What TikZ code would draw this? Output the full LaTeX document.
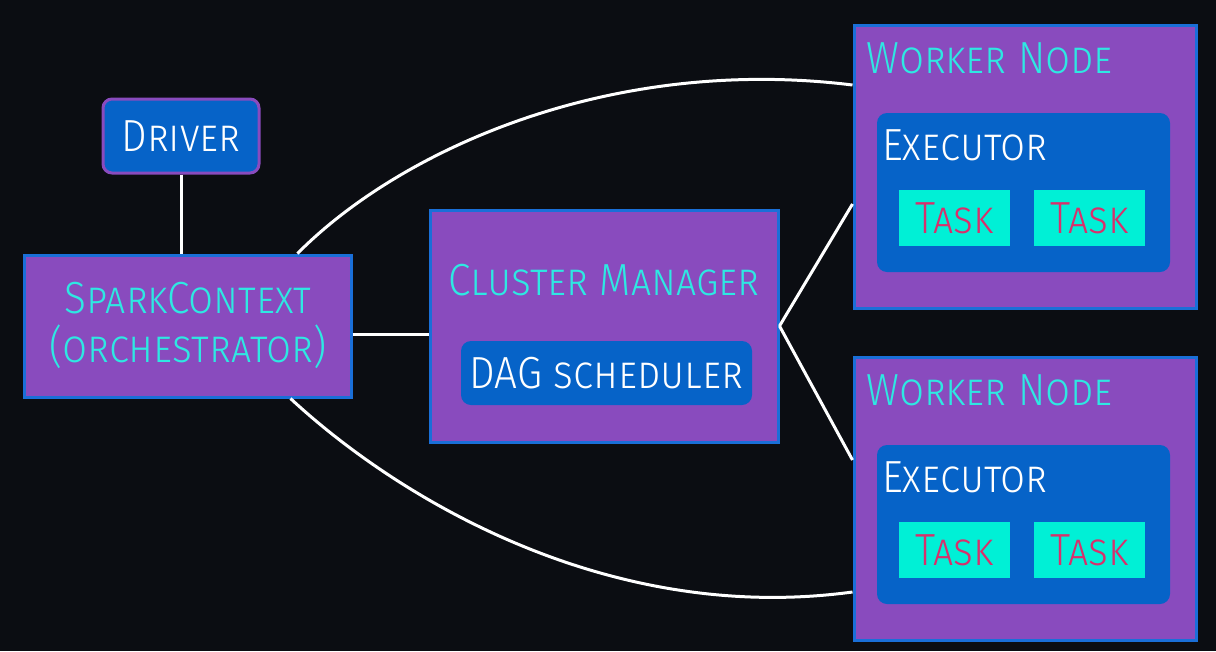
\documentclass[tikz,border=0pt]{standalone}
\usepackage{fontspec}
\setmainfont{Fira Sans Light}[FakeStretch=0.9]
\definecolor{bg}{HTML}{0B0D12}
\definecolor{purp}{HTML}{894BBE}
\definecolor{bblue}{HTML}{0663C8}
\definecolor{edgeblue}{HTML}{1A6FD8}
\definecolor{cyantext}{HTML}{2EE8E2}
\definecolor{taskfill}{HTML}{00F0D6}
\definecolor{tasktext}{HTML}{D8306C}
\newcommand\bigsc{\fontsize{45}{50}\selectfont\scshape}
\tikzset{
  x=1pt, y=-1pt,
  outerbox/.style={draw=edgeblue, line width=3pt, fill=purp, inner sep=0pt},
  innerbox/.style={fill=bblue, rounded corners=10pt, inner sep=0pt},
  drvbox/.style={draw=purp, line width=3pt, fill=bblue, rounded corners=9pt, inner sep=0pt, text=white, font=\bigsc},
  taskbox/.style={fill=taskfill, inner sep=0pt, minimum width=111pt, minimum height=56pt, text=tasktext, font=\bigsc},
  cyanlbl/.style={text=cyantext, font=\bigsc, inner sep=0pt},
  whitelbl/.style={text=white, font=\bigsc, inner sep=0pt},
  conn/.style={draw=white, line width=3pt},
}
\begin{document}
\begin{tikzpicture}
\fill[bg] (0,0) rectangle (1216,651);
\useasboundingbox (0,0) rectangle (1216,651);

% Driver
\node[drvbox, minimum width=156pt, minimum height=74pt] (driver) at (181,136) {Driver};

% SparkContext
\node[outerbox, minimum width=327pt, minimum height=142pt] (spark) at (187.5,326) {};
\node[cyanlbl, anchor=base] (sparkl1) at (188,313) {SparkContext};
\node[cyanlbl, anchor=base] (sparkl2) at (188,362) {(orchestrator)};

% Cluster manager
\node[outerbox, minimum width=348pt, minimum height=232pt] (cm) at (604,326) {};
\node[cyanlbl, anchor=base] (cml) at (604,295) {Cluster Manager};
\node[innerbox, minimum width=291pt, minimum height=64pt] (dag) at (606.5,373) {};
\node[whitelbl, anchor=base] (dagl) at (606.5,388) {DAG scheduler};

% Worker 1
\node[outerbox, minimum width=342pt, minimum height=283pt] (w1) at (1025,166.5) {};
\node[cyanlbl, anchor=base west] (w1l) at (866,73) {Worker Node};
\node[innerbox, minimum width=293pt, minimum height=159pt] (ex1) at (1023.5,192.5) {};
\node[whitelbl, anchor=base west] (ex1l) at (882,160) {Executor};
\node[taskbox] (t11) at (954.5,218) {Task};
\node[taskbox] (t12) at (1089.5,218) {Task};

% Worker 2
\node[outerbox, minimum width=342pt, minimum height=283pt] (w2) at (1025,498.5) {};
\node[cyanlbl, anchor=base west] (w2l) at (866,405) {Worker Node};
\node[innerbox, minimum width=293pt, minimum height=159pt] (ex2) at (1023.5,524.5) {};
\node[whitelbl, anchor=base west] (ex2l) at (882,492) {Executor};
\node[taskbox] (t21) at (954.5,550) {Task};
\node[taskbox] (t22) at (1089.5,550) {Task};

% Connectors
\coordinate (sptop) at ([xshift=110pt]spark.north);
\coordinate (spbot) at ([xshift=103pt]spark.south);
\coordinate (w1top) at ([yshift=81.5pt]w1.west);
\coordinate (w1mid) at ([yshift=-37.5pt]w1.west);
\coordinate (w2mid) at ([yshift=38.5pt]w2.west);
\coordinate (w2bot) at ([yshift=-93.5pt]w2.west);
\coordinate (spright) at ([yshift=-8pt]spark.east);

\draw[conn] (driver.south) -- (driver.south |- spark.north);
\draw[conn] (spright) -- (spright -| cm.west);
\draw[conn] (cm.east) -- (w1mid);
\draw[conn] (cm.east) -- (w2mid);
\draw[conn] (sptop) .. controls (400,150) and (610,55) .. (w1top);
\draw[conn] (spbot) .. controls (400,500) and (610,625) .. (w2bot);
\end{tikzpicture}
\end{document}
